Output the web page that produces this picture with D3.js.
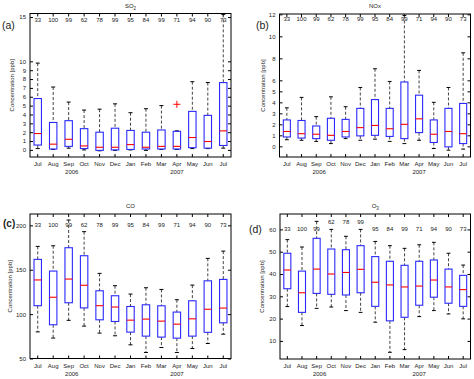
<!DOCTYPE html>
<html><head><meta charset="utf-8">
<script src="https://cdn.jsdelivr.net/npm/d3@7"></script>
<style>
body{margin:0;background:#fff}
text{font-family:"Liberation Sans",Arial,Helvetica,sans-serif;fill:#222}
</style>
</head><body>
<svg id="chart" width="474" height="379"></svg>
<script>
// ---------------- data ----------------
const months = ["Jul","Aug","Sep","Oct","Nov","Dec","Jan","Feb","Mar","Apr","May","Jun","Jul"];
const counts = [33,100,99,62,78,99,95,84,99,71,94,90,73];
const years = [{label:"2006", pos:3.2},{label:"2007", pos:10.0}];

// SO2 [ppb]
const so2Low  = [0.15,0.05,0.2,0.0,-0.1,-0.05,0.0,-0.05,0.05,0.05,0.15,0.15,0.2];
const so2Q1   = [0.55,0.1,0.4,0.15,-0.05,0.0,0.05,0.1,0.1,0.1,0.25,0.2,0.5];
const so2Med  = [1.85,0.65,1.2,0.45,0.3,0.3,0.6,0.3,0.4,0.4,1.4,0.95,2.15];
const so2Q3   = [5.8,3.1,3.3,2.4,2.0,2.45,2.2,2.0,2.25,2.1,4.35,3.9,7.6];
const so2High = [9.8,7.1,5.4,4.5,4.6,5.2,4.2,4.65,5.0,2.15,7.7,7.6,15.3];
const so2Outliers = [{month:9, value:5.15}];

// NOx [ppb]
const noxLow  = [0.6,0.55,0.45,0.25,0.7,0.55,0.65,0.45,0.25,0.55,-0.2,-0.35,-0.25];
const noxQ1   = [0.85,0.75,0.7,0.55,0.85,0.95,1.0,0.9,0.7,1.25,0.35,-0.05,0.25];
const noxMed  = [1.35,1.15,1.1,1.0,1.35,1.7,1.9,1.6,2.0,2.5,1.1,1.35,1.15];
const noxQ3   = [2.4,2.35,1.85,2.55,2.45,3.45,4.25,3.45,5.85,4.65,2.4,3.45,3.9];
const noxHigh = [3.5,4.45,2.7,4.5,3.6,5.35,7.05,5.9,11.9,6.9,4.0,5.35,8.5];

// CO [ppb]
const coLow  = [80,73,93,86.5,78.6,75.6,65.4,56.8,62.4,56.8,61.3,66.9,77.4];
const coQ1   = [109.5,88,112.8,107,93.6,91.7,79.7,75.2,74.1,72.9,75.2,79.5,90.2];
const coMed  = [138.5,119,139.5,132.5,109.5,108,93.2,94.4,92.1,88.7,94.7,105.5,106.8];
const coQ3   = [161.7,148.5,174.8,165.8,126.3,120.7,108.6,110.5,109.4,102.3,115,137.5,139.1];
const coHigh = [176.3,177,206,192.9,145.9,132,122.6,129.7,127.8,116.2,132.7,162.8,171];

// O3 [ppb]
const o3Low  = [25.4,16.9,24.6,25.2,23.6,22.8,18.4,4.9,6.1,20.9,23.6,22.1,19.9];
const o3Q1   = [33.4,22.8,31.3,30.9,30.6,31.6,25.5,19.0,20.6,26.0,29.6,26.9,25.5];
const o3Med  = [41.8,31.6,42.2,40.0,40.7,42.1,36.3,35.1,34.2,34.6,37.3,34.2,33.0];
const o3Q3   = [49.3,41.3,56.0,51.2,50.9,52.7,47.8,45.7,43.9,45.7,46.3,42.2,39.4];
const o3High = [55.4,52.1,63.6,60.0,56.9,60.0,54.6,52.7,51.5,53.1,54.2,49.3,44.0];

const so2Ticks = [0,1,2,3,4,5,6,7,8,9,10,15];
const noxTicks = [0,1,2,3,4,5,6,8,10,12];
const coTicks  = [50,100,150,200];
const o3Ticks  = [10,20,30,40,50,60];

function rows(lo,q1,med,q3,hi){
  return months.map((m,i)=>({i, lo:lo[i], q1:q1[i], med:med[i], q3:q3[i], hi:hi[i], n:counts[i]}));
}

const panels = [
  {letter:"(a)", title:"SO", sub:"2", data:rows(so2Low,so2Q1,so2Med,so2Q3,so2High), outliers:so2Outliers,
   x0:30, x1:231, y0:13.5, y1:157, domain:[-0.8,15.4], ticks:so2Ticks, countLevel:[14.7],
   lx:2, ly:29, ylx:12, bold:false},
  {letter:"(b)", title:"NOx", sub:"", data:rows(noxLow,noxQ1,noxMed,noxQ3,noxHigh), outliers:[],
   x0:279.5, x1:470.5, y0:14, y1:157, domain:[-0.97,12.03], ticks:noxTicks, countLevel:[11.6],
   lx:256, ly:29, ylx:262.5, bold:false},
  {letter:"(c)", title:"CO", sub:"", data:rows(coLow,coQ1,coMed,coQ3,coHigh), outliers:[],
   x0:30, x1:231, y0:214, y1:358.5, domain:[50,212.8], ticks:coTicks, countLevel:[200],
   lx:3, ly:227, ylx:10, bold:true},
  {letter:"(d)", title:"O", sub:"3", data:rows(o3Low,o3Q1,o3Med,o3Q3,o3High), outliers:[],
   x0:280, x1:470.5, y0:214, y1:359, domain:[1.9,66.9], ticks:o3Ticks, countLevel:[60,63.2], raised:[3,4,5],
   lx:249, ly:233, ylx:262, bold:false}
];

const svg = d3.select("#chart");
const FS = 6;

panels.forEach(p=>{
  const g = svg.append("g");
  const x = d3.scaleBand().domain(d3.range(months.length)).range([p.x0,p.x1]);
  const y = d3.scaleLinear().domain(p.domain).range([p.y1,p.y0]);
  const bw = x.bandwidth();
  const cx = i => x(i)+bw/2;

  // frame
  g.append("rect").attr("x",p.x0).attr("y",p.y0).attr("width",p.x1-p.x0).attr("height",p.y1-p.y0)
    .attr("fill","none").attr("stroke","#000").attr("stroke-width",1);

  // y axis (left) and mirrored ticks on right
  const yl = g.append("g").attr("transform",`translate(${p.x0},0)`)
    .call(d3.axisLeft(y).tickValues(p.ticks).tickSize(-3).tickPadding(4).tickFormat(d3.format("d")));
  yl.select(".domain").remove();
  yl.selectAll("text").attr("font-size",FS).attr("fill","#222");
  yl.selectAll("line").attr("stroke","#000");
  const yr = g.append("g").attr("transform",`translate(${p.x1},0)`)
    .call(d3.axisRight(y).tickValues(p.ticks).tickSize(-3).tickFormat(""));
  yr.select(".domain").remove();

  // x axis bottom/top
  const xb = g.append("g").attr("transform",`translate(0,${p.y1})`)
    .call(d3.axisBottom(x).tickSize(-3).tickPadding(5).tickFormat(i=>months[i]));
  xb.select(".domain").remove();
  xb.selectAll("text").attr("font-size",FS).attr("fill","#222");
  const xt = g.append("g").attr("transform",`translate(0,${p.y0})`)
    .call(d3.axisTop(x).tickSize(-3).tickFormat(""));
  xt.select(".domain").remove();

  // year labels
  g.selectAll("text.yr").data(years).join("text").attr("class","yr")
    .attr("x",d=>p.x0+(d.pos-0.5)*bw).attr("y",p.y1+17)
    .attr("text-anchor","middle").attr("font-size",FS).text(d=>d.label);

  // title
  const t = g.append("text").attr("x",(p.x0+p.x1)/2).attr("y",p.y0-6)
    .attr("text-anchor","middle").attr("font-size",FS).text(p.title);
  if(p.sub) t.append("tspan").attr("dy",2).attr("font-size",4.5).text(p.sub);

  // panel letter
  g.append("text").attr("x",p.lx).attr("y",p.ly).attr("font-size",p.bold?10:10.5)
    .attr("font-weight",p.bold?"bold":"normal").attr("fill","#000").text(p.letter);

  // y label
  g.append("text").attr("transform",`translate(${p.ylx},${(p.y0+p.y1)/2}) rotate(-90)`)
    .attr("text-anchor","middle").attr("dy","0.35em").attr("font-size",FS).text("Concentration [ppb]");

  // counts
  g.selectAll("text.cnt").data(p.data).join("text").attr("class","cnt")
    .attr("x",d=>cx(d.i)).attr("y",d=>y(p.raised && p.raised.includes(d.i) ? p.countLevel[1] : p.countLevel[0]))
    .attr("dy","0.35em").attr("text-anchor","middle").attr("font-size",FS).text(d=>d.n);

  // boxes
  const b = g.selectAll("g.box").data(p.data).join("g").attr("class","box");
  b.append("line").attr("x1",d=>cx(d.i)).attr("x2",d=>cx(d.i))
    .attr("y1",d=>y(d.hi)).attr("y2",d=>y(d.q3))
    .attr("stroke","#444").attr("stroke-dasharray","3,2");
  b.append("line").attr("x1",d=>cx(d.i)).attr("x2",d=>cx(d.i))
    .attr("y1",d=>y(d.q1)).attr("y2",d=>y(d.lo))
    .attr("stroke","#444").attr("stroke-dasharray","3,2");
  b.append("line").attr("x1",d=>cx(d.i)-bw*0.13).attr("x2",d=>cx(d.i)+bw*0.13)
    .attr("y1",d=>y(d.hi)).attr("y2",d=>y(d.hi)).attr("stroke","#000");
  b.append("line").attr("x1",d=>cx(d.i)-bw*0.13).attr("x2",d=>cx(d.i)+bw*0.13)
    .attr("y1",d=>y(d.lo)).attr("y2",d=>y(d.lo)).attr("stroke","#000");
  b.append("rect").attr("x",d=>cx(d.i)-bw*0.24).attr("width",bw*0.48)
    .attr("y",d=>y(d.q3)).attr("height",d=>y(d.q1)-y(d.q3))
    .attr("fill","none").attr("stroke","#2a2aff").attr("stroke-width",1.1);
  b.append("line").attr("x1",d=>cx(d.i)-bw*0.24).attr("x2",d=>cx(d.i)+bw*0.24)
    .attr("y1",d=>y(d.med)).attr("y2",d=>y(d.med)).attr("stroke","#f00").attr("stroke-width",1.1);

  // outliers
  g.selectAll("path.out").data(p.outliers).join("path").attr("class","out")
    .attr("d",d=>{const X=cx(d.month),Y=y(d.value);return `M${X-3.5},${Y}H${X+3.5}M${X},${Y-3.5}V${Y+3.5}`;})
    .attr("stroke","#f00").attr("stroke-width",1);
});
</script>
</body></html>
